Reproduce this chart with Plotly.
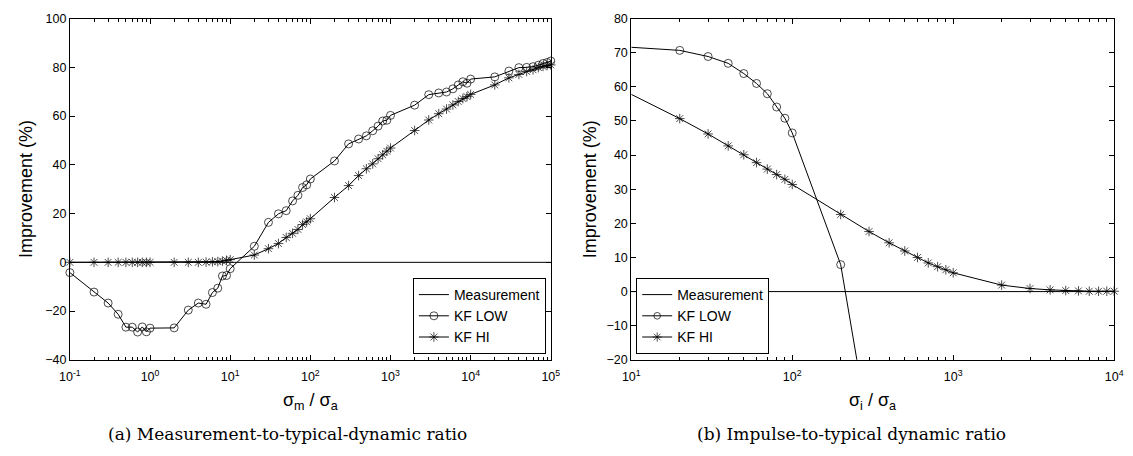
import plotly.graph_objects as go

W, H = 1133, 456

# ---------------- data: panel (a) ----------------
xa = [0.1, 0.2, 0.3, 0.4, 0.5, 0.6, 0.7, 0.8, 0.9,
      1, 2, 3, 4, 5, 6, 7, 8, 9,
      10, 20, 30, 40, 50, 60, 70, 80, 90,
      100, 200, 300, 400, 500, 600, 700, 800, 900,
      1000, 2000, 3000, 4000, 5000, 6000, 7000, 8000, 9000,
      10000, 20000, 30000, 40000, 50000, 60000, 70000, 80000, 90000,
      100000]
a_low = [-4.2, -12.2, -16.7, -21.3, -26.6, -26.6, -28.6, -26.5, -28.5,
         -27.0, -26.9, -19.6, -16.7, -17.2, -12.4, -10.6, -5.6, -5.4,
         -2.6, 6.6, 16.4, 19.9, 21.2, 25.2, 27.5, 30.7, 31.8,
         34.2, 41.6, 48.6, 50.6, 51.9, 54.0, 55.9, 58.0, 58.3,
         60.3, 64.5, 68.8, 69.5, 69.9, 71.2, 72.8, 74.1, 73.5,
         75.2, 76.1, 78.5, 79.9, 80.0, 80.3, 80.9, 81.6, 82.0,
         82.6]
a_hi = [0.0, 0.0, 0.0, 0.0, 0.0, 0.0, 0.0, 0.0, 0.0,
        0.0, 0.0, 0.0, 0.0, 0.1, 0.2, 0.3, 0.5, 0.8,
        1.1, 3.0, 5.6, 7.7, 10.2, 11.9, 13.5, 15.5, 16.6,
        17.9, 26.6, 31.5, 35.6, 38.4, 40.4, 42.5, 44.1, 45.6,
        46.9, 54.1, 58.4, 61.0, 62.9, 64.6, 66.0, 67.2, 68.0,
        68.9, 72.8, 75.7, 77.1, 78.3, 79.0, 79.9, 80.4, 80.8,
        81.0]
a_meas_x = [0.1, 100000]
a_meas_y = [0, 0]
a_tickvals = [0.1, 1, 10, 100, 1000, 10000, 100000]
a_ticktext = ["10<sup>-1</sup>", "10<sup>0</sup>", "10<sup>1</sup>", "10<sup>2</sup>",
              "10<sup>3</sup>", "10<sup>4</sup>", "10<sup>5</sup>"]

# ---------------- data: panel (b) ----------------
xb_low = [10, 20, 30, 40, 50, 60, 70, 80, 90, 100, 200, 300]
b_low = [71.6, 70.7, 68.9, 66.9, 63.9, 61.0, 58.0, 54.1, 50.8, 46.5, 7.9, -41.0]
b_low_shown = [0, 1, 1, 1, 1, 1, 1, 1, 1, 1, 1, 0]

xb_hi = [10, 20, 30, 40, 50, 60, 70, 80, 90,
         100, 200, 300, 400, 500, 600, 700, 800, 900,
         1000, 2000, 3000, 4000, 5000, 6000, 7000, 8000, 9000, 10000]
b_hi = [57.8, 50.7, 46.2, 42.7, 40.1, 37.8, 35.9, 34.3, 32.9,
        31.4, 22.6, 17.6, 14.3, 11.9, 10.0, 8.4, 7.3, 6.4,
        5.5, 1.9, 0.9, 0.5, 0.3, 0.2, 0.1, 0.1, 0.1, 0.1]
b_hi_shown = [0] + [1] * 27
b_meas_x = [10, 10000]
b_meas_y = [0, 0]
b_tickvals = [10, 100, 1000, 10000]
b_ticktext = ["10<sup>1</sup>", "10<sup>2</sup>", "10<sup>3</sup>", "10<sup>4</sup>"]

labels = ["Measurement", "KF LOW", "KF HI"]
captions = ["(a) Measurement-to-typical-dynamic ratio",
            "(b) Impulse-to-typical dynamic ratio"]

# ---------------- figure ----------------
MS = 8
fig = go.Figure()

def add_panel(xm, ym, xl, yl, sl, xh, yh, sh, xa_name, ya_name, legend):
    fig.add_trace(go.Scatter(x=xm, y=ym, mode="lines", name=labels[0],
                             line=dict(color="black", width=1),
                             xaxis=xa_name, yaxis=ya_name, legend=legend))
    fig.add_trace(go.Scatter(x=xl, y=yl, mode="lines+markers", name=labels[1],
                             line=dict(color="black", width=1),
                             marker=dict(symbol="circle-open", size=[MS * s for s in sl],
                                         color="black", line=dict(width=1)),
                             cliponaxis=False,
                             xaxis=xa_name, yaxis=ya_name, legend=legend))
    fig.add_trace(go.Scatter(x=xh, y=yh, mode="lines+markers", name=labels[2],
                             line=dict(color="black", width=1),
                             marker=dict(symbol="asterisk-open", size=[MS * s for s in sh],
                                         color="black", line=dict(width=1, color="black")),
                             cliponaxis=False,
                             xaxis=xa_name, yaxis=ya_name, legend=legend))

add_panel(a_meas_x, a_meas_y, xa, a_low, [1] * len(xa), xa, a_hi, [1] * len(xa),
          "x", "y", "legend")
add_panel(b_meas_x, b_meas_y, xb_low, b_low, b_low_shown, xb_hi, b_hi, b_hi_shown,
          "x2", "y2", "legend2")

def px(x):
    return x / W

def py(y):
    return (H - y) / H

tickfont = dict(family="Liberation Sans, Arial, sans-serif", size=12.5, color="black")
common_ax = dict(showline=True, linecolor="black", linewidth=1, mirror="ticks",
                 ticks="inside", ticklen=5, tickcolor="black", tickwidth=1,
                 showgrid=False, zeroline=False, tickfont=tickfont)
minor = dict(ticks="inside", ticklen=3, tickcolor="black", tickwidth=1, showgrid=False,
             tickmode="linear", dtick="D1")

legfont = dict(family="Liberation Sans, Arial, sans-serif", size=14, color="black")
ydom = [py(364), py(12)]
fig.update_layout(
    width=W, height=H,
    margin=dict(l=0, r=0, t=0, b=0),
    paper_bgcolor="white", plot_bgcolor="white",
    xaxis=dict(domain=[px(60), px(550)], type="log", range=[-1, 5],
               tickvals=a_tickvals, ticktext=a_ticktext, ticklabelstandoff=5,
               anchor="y", minor=minor, **common_ax),
    yaxis=dict(domain=ydom, range=[-40, 100], dtick=20, anchor="x", **common_ax),
    xaxis2=dict(domain=[px(632), px(1124)], type="log", range=[1, 4],
                tickvals=b_tickvals, ticktext=b_ticktext, ticklabelstandoff=5,
                anchor="y2", minor=minor, **common_ax),
    yaxis2=dict(domain=ydom, range=[-20, 80], dtick=10, anchor="x2", **common_ax),
    legend=dict(x=px(545), y=py(358), xanchor="right", yanchor="bottom",
                bgcolor="white", bordercolor="black", borderwidth=1,
                font=legfont, tracegroupgap=0, itemwidth=30),
    legend2=dict(x=px(637), y=py(358), xanchor="left", yanchor="bottom",
                 bgcolor="white", bordercolor="black", borderwidth=1,
                 font=legfont, tracegroupgap=0, itemwidth=30),
)

title_font = dict(family="Liberation Sans, Arial, sans-serif", size=18, color="black")
cap_font = dict(family="DejaVu Serif, serif", size=17, color="black")
ann = [
    dict(text="Improvement (%)", x=px(16), y=py(188), textangle=-90, font=title_font),
    dict(text="Improvement (%)", x=px(590), y=py(188), textangle=-90, font=title_font),
    dict(text="σ<sub>m</sub> / σ<sub>a</sub>", x=px(305), y=py(407), font=title_font),
    dict(text="σ<sub>i</sub> / σ<sub>a</sub>", x=px(878), y=py(407), font=title_font),
    dict(text=captions[0], x=px(282), y=py(441), font=cap_font),
    dict(text=captions[1], x=px(856), y=py(441), font=cap_font),
]
for a in ann:
    a.update(xref="paper", yref="paper", showarrow=False, xanchor="center", yanchor="middle")
fig.update_layout(annotations=ann)

fig.write_html("out.html")
